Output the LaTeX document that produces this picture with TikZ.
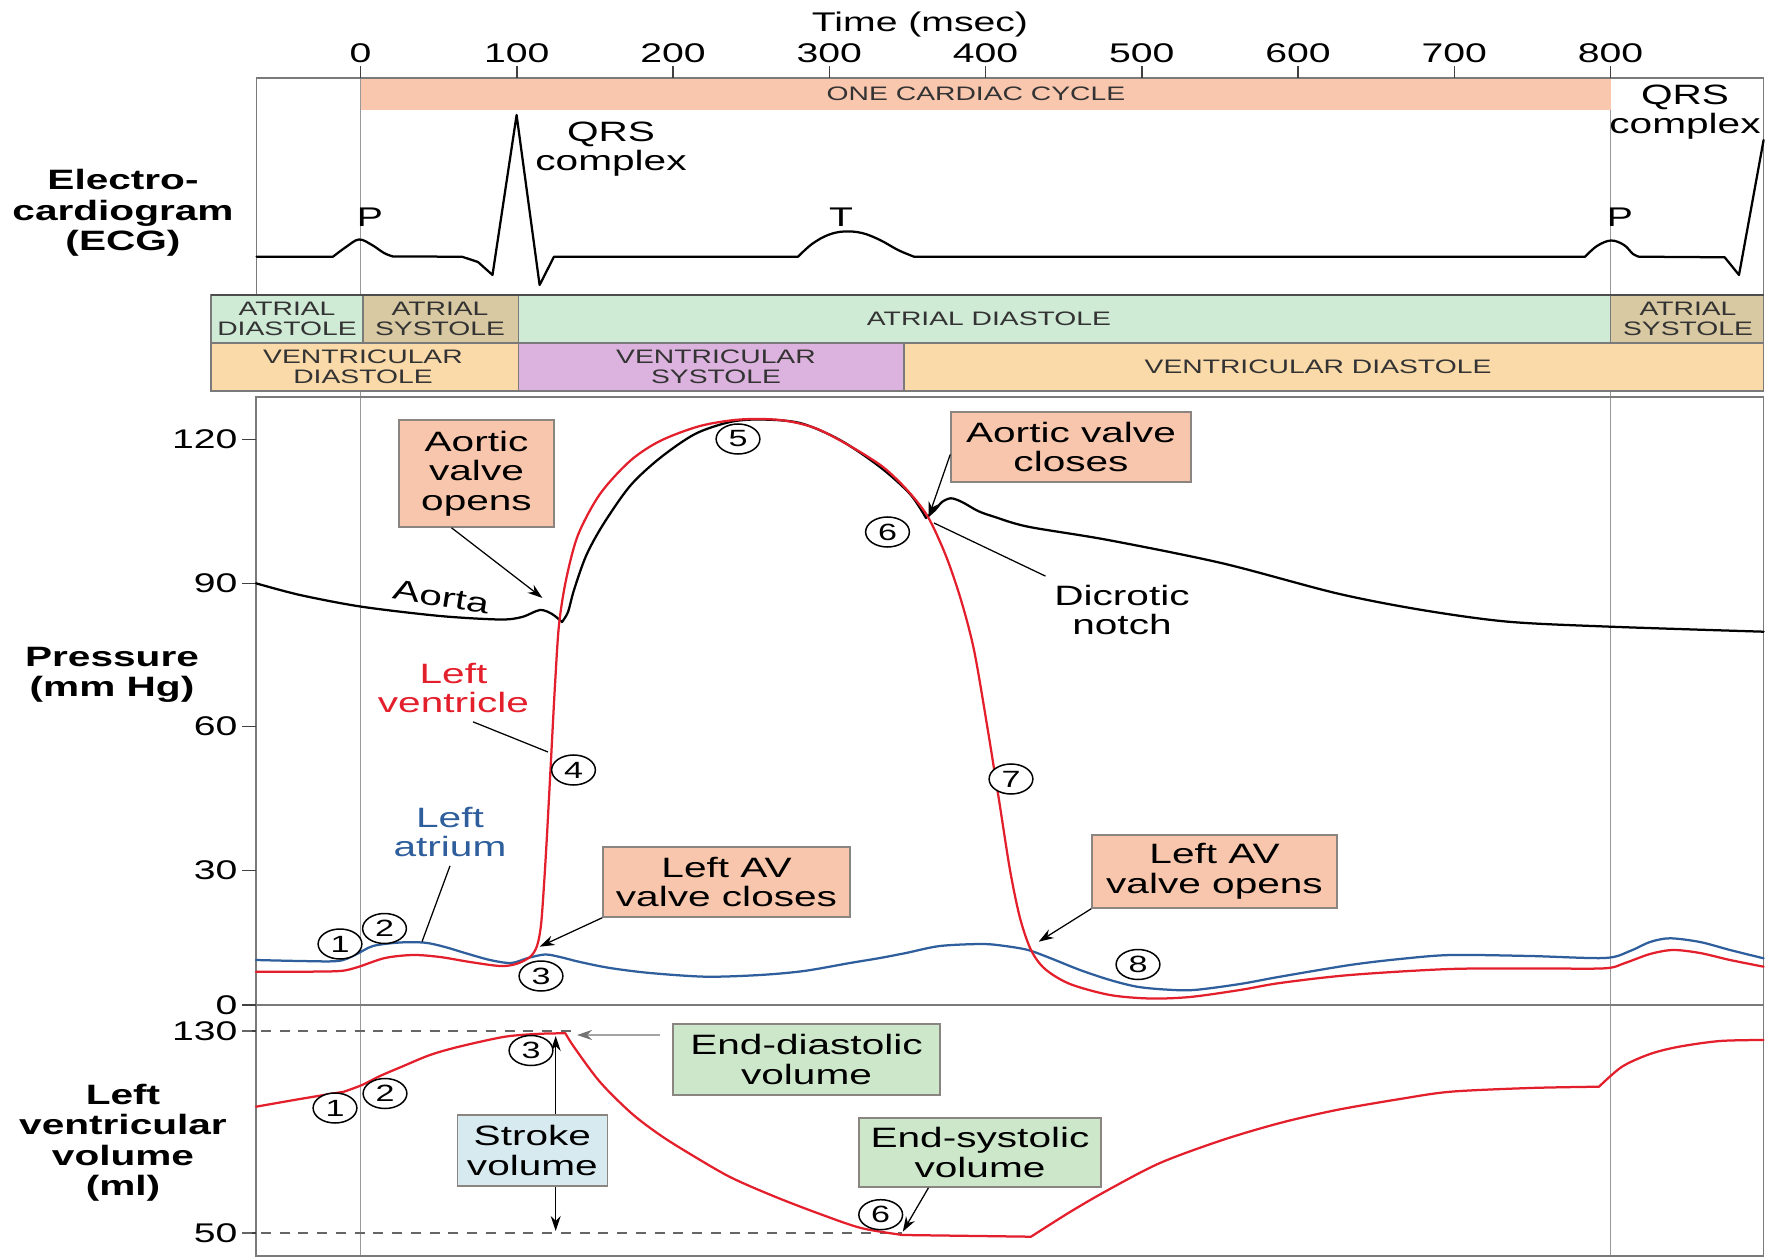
\documentclass[tikz,border=0pt]{standalone}
\usepackage{fontspec}
\setmainfont{Liberation Sans}[FakeStretch=1.45]
\usetikzlibrary{arrows.meta,shapes.geometric}

\definecolor{cyclefill}{HTML}{F9C6AE}
\definecolor{adfill}{HTML}{CFEAD5}
\definecolor{asfill}{HTML}{D9C9A3}
\definecolor{vdfill}{HTML}{FBDAAA}
\definecolor{vsfill}{HTML}{DCB3DE}
\definecolor{valvefill}{HTML}{F8C6AC}
\definecolor{volfill}{HTML}{CDE7CB}
\definecolor{svfill}{HTML}{D7EAF0}
\definecolor{lvred}{HTML}{E31F2C}
\definecolor{lablue}{HTML}{2E5E9C}
\definecolor{framegray}{HTML}{7A7A7A}
\definecolor{boxline}{HTML}{8A8580}

\newcommand{\lblfont}{\fontsize{11.2}{11.8}\selectfont}
\newcommand{\numfont}{\fontsize{10.8}{12}\selectfont}
\newcommand{\bandfont}{\fontsize{7.8}{8.2}\selectfont}
\newcommand{\cnumfont}{\fontsize{9.4}{10}\selectfont}
\newcommand{\axisfont}{\fontsize{11.2}{12.2}\selectfont\bfseries}

\tikzset{trace/.style={line width=0.9pt, line join=round, line cap=round}}
\tikzset{lvline/.style={trace, draw=lvred}}
\tikzset{laline/.style={trace, draw=lablue}}
\tikzset{frame/.style={draw=framegray, line width=0.7pt}}
\tikzset{guide/.style={draw=black!40, line width=0.5pt}}
\tikzset{tick/.style={draw=black!75, line width=0.6pt}}
\tikzset{bandcell/.style={draw=framegray, line width=0.7pt}}
\tikzset{bandtxt/.style={font=\bandfont, align=center, text=black!80, inner sep=0pt}}
\tikzset{labelbox/.style={draw=boxline, line width=0.6pt, align=center, font=\lblfont, inner sep=0pt}}
\tikzset{valvebox/.style={labelbox, fill=valvefill}}
\tikzset{volbox/.style={labelbox, fill=volfill}}
\tikzset{cnum/.style={ellipse, draw, fill=white, line width=0.6pt, inner sep=0pt,
      minimum width=17.5pt, minimum height=12pt, font=\cnumfont}}
\tikzset{pointer/.style={-{Stealth[length=6pt,width=4pt]}, line width=0.5pt}}
\tikzset{leader/.style={line width=0.5pt}}
\tikzset{refline/.style={draw=black!60, line width=0.6pt, dash pattern=on 4pt off 3.5pt}}

\begin{document}
\begin{tikzpicture}[x=0.4pt,y=-0.4pt]
\useasboundingbox (0,0) rectangle (1775,1258);

% guides at 0 and 800 msec
\draw[guide] (360.5,77.7) -- (360.5,1256);
\draw[guide] (1610.6,77.7) -- (1610.6,1256);

% ECG frame and cycle bar
\fill[cyclefill] (360.5,77.7) rectangle (1610.6,110);
\node[font=\bandfont, text=black!80] (cycle) at (976,94) {ONE CARDIAC CYCLE};
\draw[frame] (256.6,295) -- (256.6,77.7) -- (1763.6,77.7) -- (1763.6,295);

% time axis
\foreach \t in {0,100,...,800}
  \draw[tick] ({360.5+1.5625*\t},77.7) -- ({360.5+1.5625*\t},66) node[above, inner sep=1pt, font=\numfont] (tk\t) {\t};
\node[font=\numfont] (timelbl) at (920,25) {Time (msec)};

% ECG trace
\draw[trace] (256.6,256.7) -- (333,256.7)
  -- plot[smooth, tension=0.6] coordinates {(333,256.7) (346,247) (359,239.5) (372,245) (384,253) (393,256.5)}
  -- (462,256.7) -- (478,262) -- (492.5,275) -- (516.6,115) -- (539.6,285) -- (554,256.7) -- (798,256.7)
  -- plot[smooth, tension=0.6] coordinates {(798,256.7) (812,244) (828,235) (844,231.5) (862,233) (880,240) (898,250) (914,256.7)}
  -- (1585,256.7)
  -- plot[smooth, tension=0.6] coordinates {(1585,256.7) (1597,246) (1611,240.5) (1624,245) (1633,254) (1639,256.7)}
  -- (1724.7,257.3) -- (1739,275) -- (1763.6,140);
\node[font=\numfont] (p1) at (370,217) {P};
\node[font=\numfont] (p2) at (1620,217) {P};
\node[font=\numfont] (twave) at (841,217) {T};
\node[font=\lblfont, align=center] (qrs1) at (611,149) {QRS\\complex};
\node[font=\lblfont, align=center] (qrs2) at (1685,112) {QRS\\complex};
\node[font=\axisfont, align=center] (ecglbl) at (123,213) {Electro-\\cardiogram\\(ECG)};

% phase bands
\draw[bandcell, fill=adfill] (211,295) rectangle (362.8,342.7);
\draw[bandcell, fill=asfill] (362.8,295) rectangle (518.4,342.7);
\draw[bandcell, fill=adfill] (518.4,295) rectangle (1610.6,342.7);
\draw[bandcell, fill=asfill] (1610.6,295) rectangle (1763.6,342.7);
\draw[bandcell, fill=vdfill] (211,342.7) rectangle (518.4,390.7);
\draw[bandcell, fill=vsfill] (518.4,342.7) rectangle (904,390.7);
\draw[bandcell, fill=vdfill] (904,342.7) rectangle (1763.6,390.7);
\draw[draw=black!70, line width=1pt] (211,295) -- (1763.6,295);
\node[bandtxt] (ad1) at (287,319) {ATRIAL\\DIASTOLE};
\node[bandtxt] (as1) at (440,319) {ATRIAL\\SYSTOLE};
\node[bandtxt] (ad2) at (989,319) {ATRIAL DIASTOLE};
\node[bandtxt] (as2) at (1688,319) {ATRIAL\\SYSTOLE};
\node[bandtxt] (vd1) at (363,367) {VENTRICULAR\\DIASTOLE};
\node[bandtxt] (vs) at (716,367) {VENTRICULAR\\SYSTOLE};
\node[bandtxt] (vd2) at (1318,367) {VENTRICULAR DIASTOLE};

% pressure and volume panels
\draw[frame] (256,396.7) rectangle (1763.6,1256);
\draw[frame] (242,1005) -- (1763.6,1005);
\foreach \v/\y in {120/439.3,90/583.3,60/726.7,30/870.7,0/1005,130/1031,50/1233}
  \draw[tick] (256,\y) -- (242,\y) node[left, inner sep=1.5pt, font=\numfont] (pv\v) {\v};
\node[font=\axisfont, align=center] (preslbl) at (112,675) {Pressure\\(mm Hg)};
\node[font=\axisfont, align=center] (vollbl) at (123,1143) {Left\\ventricular\\volume\\(ml)};

\draw[refline] (242,1031) -- (577,1031);
\draw[refline] (242,1233) -- (902,1233);

% aorta
\draw[trace] plot[smooth, tension=0.5] coordinates {(256,583.3) (300,595) (361.6,606.7) (440,616) (500,619.5) (522,617) (540,610) (552,614) (562,622)}
  -- plot[smooth, tension=0.5] coordinates {(562,622) (568,612) (574,590) (586,556) (602.8,525) (630,486) (660,458) (695,434) (730,422) (760,419.5) (800,423) (840,440) (880,467) (910,494) (926,518)}
  -- plot[smooth, tension=0.5] coordinates {(926,518) (935,510) (942,502) (951,498.3) (962,502) (978,511) (994,516.7) (1028,526.7) (1108,540) (1222.5,563.3) (1336.6,593.3) (1422,610) (1508,621.7) (1610.6,626.7) (1763.6,631.7)};

% left atrium
\draw[laline] plot[smooth, tension=0.5] coordinates {(256,960) (300,961) (338,961) (355,955) (373,946) (400,942.5) (425,942.7) (445,947) (465,953) (490,960) (511,963) (528,958) (545,954.5) (560,957) (580,962) (610,968) (650,973) (706,976.7) (760,975) (804,971) (850,963) (880,958) (906,953) (940,946) (982,944) (1005,946) (1028,950) (1050,958) (1080,970) (1110,980) (1137,986.7) (1165,989.5) (1194,990) (1240,984) (1280,976.7) (1350,965) (1400,959) (1451,955) (1530,956) (1605,958) (1630,951) (1650,942) (1670,938.3) (1700,942) (1730,950) (1763.6,958.3)};

% left ventricle pressure
\draw[lvline] plot[smooth, tension=0.5] coordinates {(256,971.7) (300,971.7) (340,971) (358,967) (385,958) (413,955) (440,957) (470,962) (500,966) (516,964) (530,957) (537,946) (541,925) (544,885) (547,835) (551,760) (555,685) (559,625) (566,580) (578,535) (600,494) (630,461) (660,441) (700,426) (740,419.5) (780,420) (815,428) (850,446) (883,467) (908,491) (928,517) (946,556) (961,600) (974,650) (987,725) (999,800) (1010,870) (1020,918) (1031,950) (1045,969) (1070,984) (1110,995) (1150,998.5) (1190,997) (1240,990) (1280,983) (1350,975) (1450,969) (1540,968.5) (1605,968.3) (1625,963) (1650,954) (1673,950) (1700,953) (1730,960) (1763.6,966.7)};

% left ventricle volume
\draw[lvline] plot[smooth, tension=0.5] coordinates {(256,1106.7) (300,1099) (344,1091.7)}
  -- plot[smooth, tension=0.5] coordinates {(344,1091.7) (362,1085) (380,1076) (401.8,1066.7) (430,1055) (459,1046.7) (505,1036.7) (540,1033.8) (565.4,1033.3)}
  -- plot[smooth, tension=0.5] coordinates {(565.4,1033.3) (574,1047) (600,1082) (631.5,1113.3) (660,1135) (689,1153.3) (730,1177) (775,1196.7) (820,1214) (861,1228) (902.8,1235)}
  -- (1031,1236.7)
  -- plot[smooth, tension=0.5] coordinates {(1031,1236.7) (1070,1212) (1108,1190) (1160,1163) (1222.5,1140) (1280,1123) (1336.6,1110) (1400,1099) (1450.8,1091.7) (1530,1088) (1599,1086.7)}
  -- plot[smooth, tension=0.5] coordinates {(1599,1086.7) (1622,1066.7) (1650,1054) (1679,1046.7) (1720,1041) (1763.6,1040)};

% target points
\coordinate (avopt) at (542.5,598);
\coordinate (avcpt) at (928.5,517);
\coordinate (notchpt) at (934,523);
\coordinate (lvpt) at (548,752);
\coordinate (lapt) at (422,941.7);
\coordinate (closept) at (539.6,946.7);
\coordinate (openpt) at (1038.7,941.7);
\coordinate (edvpt) at (577,1035);
\coordinate (esvpt) at (902.8,1231.7);
\coordinate (svtop) at (555.7,1036);
\coordinate (svbot) at (555.7,1231);

% curve labels
\node[font=\lblfont, rotate=-9] (aortalbl) at (441,597) {Aorta};
\node[font=\lblfont, align=center, text=lvred] (lvlbl) at (453.5,688) {Left\\ventricle};
\node[font=\lblfont, align=center, text=lablue] (lalbl) at (450,832) {Left\\atrium};
\node[font=\lblfont, align=center] (notchlbl) at (1122,610) {Dicrotic\\notch};
\draw[leader] (lvlbl.-60) -- (lvpt);
\draw[leader] (lalbl.south) -- (lapt);
\draw[leader] (notchlbl.north west) -- (notchpt);

% stroke volume span
\draw[{Stealth[length=6pt,width=4pt]}-{Stealth[length=6pt,width=4pt]}, line width=0.5pt] (svtop) -- (svbot);

% event boxes
\node[valvebox, minimum width=62pt, minimum height=42.8pt] (avo) at (476.5,473.5) {Aortic\\valve\\opens};
\node[valvebox, minimum width=96pt, minimum height=28pt] (avc) at (1071,447) {Aortic valve\\closes};
\node[valvebox, minimum width=98.8pt, minimum height=28pt] (avclose) at (726.5,882) {Left AV\\valve closes};
\node[valvebox, minimum width=98pt, minimum height=29.2pt] (avopen) at (1214.5,871.5) {Left AV\\valve opens};
\node[volbox, minimum width=106.8pt, minimum height=28.4pt] (edv) at (806.5,1059.5) {End-diastolic\\volume};
\node[labelbox, fill=svfill, minimum width=60pt, minimum height=28.4pt] (sv) at (532.4,1150.5) {Stroke\\volume};
\node[volbox, minimum width=96.8pt, minimum height=27.6pt] (esv) at (980,1152.5) {End-systolic\\volume};

\draw[pointer] ([xshift=-10pt]avo.south) -- (avopt);
\draw[pointer] ([yshift=-3pt]avc.west) -- (avcpt);
\draw[pointer] (avclose.south west) -- (closept);
\draw[pointer] (avopen.south west) -- (openpt);
\draw[pointer, draw=black!55] ([xshift=-5pt,yshift=9.8pt]edv.west) -- (edvpt);
\draw[pointer] ([xshift=-20.6pt]esv.south) -- (esvpt);

% circled events
\node[cnum] (c1) at (340,944) {1};
\node[cnum] (c2) at (384.5,928.5) {2};
\node[cnum] (c3) at (541,976) {3};
\node[cnum] (c4) at (573.5,770) {4};
\node[cnum] (c5) at (738,439) {5};
\node[cnum] (c6) at (887.5,532) {6};
\node[cnum] (c7) at (1011,779) {7};
\node[cnum] (c8) at (1138,964.5) {8};
\node[cnum] (v1) at (335,1108) {1};
\node[cnum] (v2) at (385,1093.5) {2};
\node[cnum] (v3) at (531,1050.5) {3};
\node[cnum] (v6) at (880.7,1214.7) {6};
\end{tikzpicture}
\end{document}
